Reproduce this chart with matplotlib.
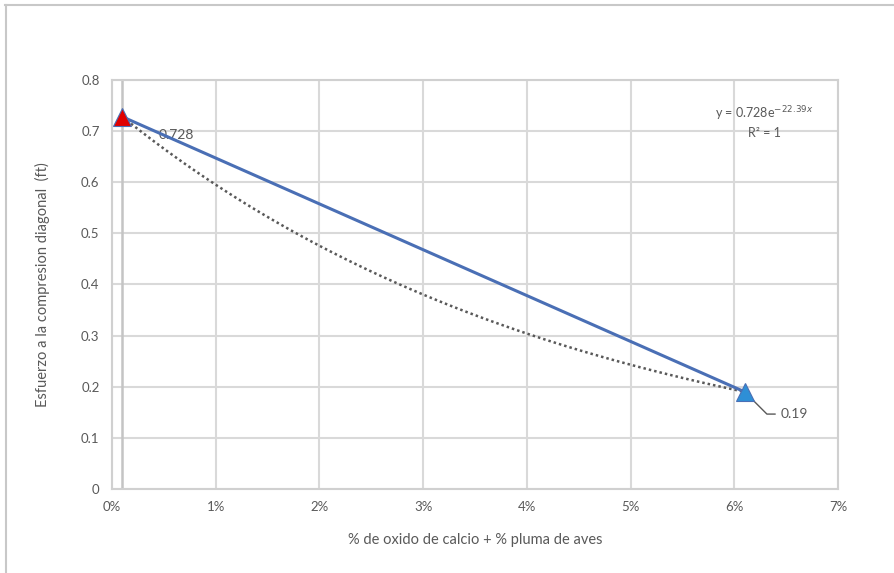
import numpy as np
import matplotlib.pyplot as plt
from matplotlib.lines import Line2D
from matplotlib.ticker import PercentFormatter

# data
pct = [0.001, 0.061]          # % de oxido de calcio + % pluma de aves
esfuerzo = [0.728, 0.19]      # esfuerzo a la compresion diagonal (ft)
point_colors = ['#e00000', '#2e8fd6']
point_labels = ['0.728', '0.19']
x_ticks = [0, 0.01, 0.02, 0.03, 0.04, 0.05, 0.06, 0.07]
y_ticks = [0, 0.1, 0.2, 0.3, 0.4, 0.5, 0.6, 0.7, 0.8]

gray = '#595959'
plt.rcParams['font.family'] = ['Lato', 'DejaVu Sans']

fig = plt.figure(figsize=(8.94, 5.73), dpi=100)
ax = fig.add_axes([0.1253, 0.1466, 0.8121, 0.7138])

# outer frame lines of the picture
fig.add_artist(Line2D([0.006, 1.0], [0.991, 0.991], color='#c8c8c8', lw=1.5))
fig.add_artist(Line2D([0.007, 0.007], [0.0, 0.991], color='#c8c8c8', lw=1.5))

ax.set_xlim(0, 0.07)
ax.set_ylim(0, 0.8)
ax.set_xticks(x_ticks)
ax.set_yticks(y_ticks)
ax.xaxis.set_major_formatter(PercentFormatter(1.0, decimals=0))
ax.set_yticklabels(['0', '0.1', '0.2', '0.3', '0.4', '0.5', '0.6', '0.7', '0.8'])
ax.grid(True, color='#d9d9d9', lw=1.5)
ax.set_axisbelow(True)
ax.axvline(pct[0], color='#c4c4c4', lw=1.8, zorder=1)
for s in ax.spines.values():
    s.set_color('#d0d0d0')
    s.set_linewidth(1.5)
ax.tick_params(length=0, colors=gray, labelsize=9.5, pad=9)

# exponential trend fitted on the points
b, ln_a = np.polyfit(pct, np.log(esfuerzo), 1)
xs = np.linspace(pct[0], pct[1], 100)
ax.plot(xs, np.exp(ln_a) * np.exp(b * xs), color=gray, lw=1.8, ls=(0, (1, 1.2)), zorder=3)

ax.plot(pct, esfuerzo, color='#4a6fb5', lw=2.2, zorder=4)
for x, y, c in zip(pct, esfuerzo, point_colors):
    ax.plot(x, y, marker='^', ms=13, color=c, mec='#4a6fb5', mew=0.8, zorder=5)

ax.annotate(point_labels[0], (pct[0], esfuerzo[0]), xytext=(26, -13),
            textcoords='offset points', color=gray, fontsize=10, va='center')
ax.annotate(point_labels[1], (pct[1], esfuerzo[1]), xytext=(26, -16),
            textcoords='offset points', color=gray, fontsize=10, va='center',
            arrowprops=dict(arrowstyle='-', color=gray, lw=1,
                            connectionstyle='angle,angleA=0,angleB=-45,rad=0',
                            shrinkA=2, shrinkB=4))

ax.text(0.0629, 0.735, 'y = 0.728e$^{\u221222.39x}$', color=gray, fontsize=9, ha='center', va='center')
ax.text(0.0629, 0.697, 'R\u00b2 = 1', color=gray, fontsize=9, ha='center', va='center')

ax.set_xlabel('% de oxido de calcio + % pluma de aves', color=gray, fontsize=10.5, labelpad=14)
ax.set_ylabel('Esfuerzo a la compresion diagonal  (ft)', color=gray, fontsize=10.5, labelpad=22)

fig.savefig('out.png', dpi=100)
